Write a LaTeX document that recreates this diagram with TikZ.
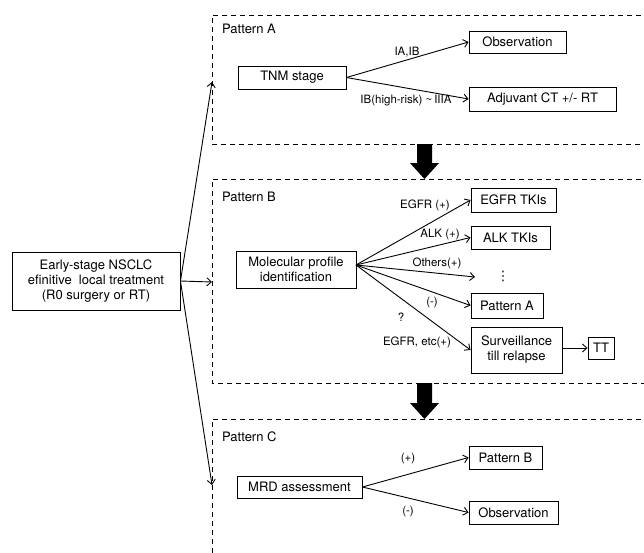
\documentclass[tikz,border=0pt]{standalone}
\usepackage{fontspec}
\setmainfont{TeX Gyre Heros}
\newfontfamily\dejavu{DejaVu Sans}
\usetikzlibrary{arrows.meta}
\begin{document}
\begin{tikzpicture}[x=1pt,y=-1pt,
  box/.style={draw,line width=0.9pt,inner sep=0pt,font=\fontsize{13}{15}\selectfont,align=center},
  lbl/.style={inner sep=0pt,font=\fontsize{11.5}{13}\selectfont},
  plabel/.style={inner sep=0pt,anchor=west,font=\fontsize{13}{15}\selectfont},
  arr/.style={line width=0.9pt,-{Straight Barb[length=4.5pt,width=8pt]}},
  dbox/.style={dashed,line width=0.9pt,dash pattern=on 5pt off 4pt},
  big/.style={fill=black,draw=none}]
\useasboundingbox (0,0) rectangle (644,552);
\begin{scope}
\clip (0,0) rectangle (644,552);
% dashed pattern boxes
\draw[dbox] (650,15) -- (212,15) -- (212,144) -- (650,144);
\draw[dbox] (650,179) -- (212,179) -- (212,383) -- (650,383);
\draw[dbox] (650,419) -- (212,419) -- (212,560);
\end{scope}
% big arrows
\fill[big] (417,144) -- (432,144) -- (432,163) -- (439,163) -- (424.5,179) -- (410,163) -- (417,163) -- cycle;
\fill[big] (417,383) -- (432,383) -- (432,403) -- (439,403) -- (424.5,419) -- (410,403) -- (417,403) -- cycle;

% left box
\node[box,minimum width=168pt,minimum height=58pt] (early) at (96,281) {Early-stage NSCLC\\efinitive\ \ local treatment\\(R0 surgery or RT)};
\coordinate (ta) at (212,82);
\coordinate (tb) at (212,282);
\coordinate (tc) at (212,485);
\draw[arr] (early.east) -- (ta);
\draw[arr] (early.east) -- (tb);
\draw[arr] (early.east) -- (tc);

% Pattern A
\node[plabel] (pa) at (222,29) {Pattern A};
\node[box,minimum width=108pt,minimum height=23pt] (tnm) at (292,77.5) {TNM stage};
\node[box,minimum width=97pt,minimum height=22pt] (obsA) at (517.5,42) {Observation};
\node[box,minimum width=147pt,minimum height=24pt] (adj) at (542.5,99) {Adjuvant CT +/- RT};
\draw[arr] (tnm.east) -- (obsA.west);
\draw[arr] (tnm.east) -- (adj.west);
\node[lbl] (l1) at (407,52) {IA,IB};
\node[lbl] (l2) at (406,100.5) {IB(high-risk) \textasciitilde\,IIIA};

% Pattern B
\node[plabel] (pb) at (222,197) {Pattern B};
\node[box,minimum width=120pt,minimum height=37pt] (mol) at (296,269.5) {Molecular profile\\identification};
\coordinate (mo) at (356,265);
\node[box,minimum width=85pt,minimum height=24pt] (egfr) at (513.5,200) {EGFR TKIs};
\node[box,minimum width=79pt,minimum height=23pt] (alk) at (510.5,237.5) {ALK TKIs};
\coordinate (oth) at (475,277);
\node[inner sep=0pt,font=\dejavu\fontsize{13}{15}\selectfont] (dots) at (503,276) {⋮};
\node[box,minimum width=72pt,minimum height=25pt] (patA) at (507,305.5) {Pattern A};
\node[box,minimum width=91pt,minimum height=46pt] (surv) at (516.5,350) {Surveillance\\till relapse};
\node[box,minimum width=26pt,minimum height=22pt] (tt) at (601,348) {TT};
\draw[arr] (mo) -- (egfr.west);
\draw[arr] (mo) -- (alk.west);
\draw[arr] (mo) -- (oth);
\draw[arr] (mo) -- (patA.west);
\draw[arr] (mo) -- (surv.west);
\draw[arr] (surv.east |- tt.west) -- (tt.west);
\node[lbl] (b1) at (425,205) {EGFR (+)};
\node[lbl] (b2) at (440,235) {ALK (+)};
\node[lbl] (b3) at (437,263) {Others(+)};
\node[lbl] (b4) at (432,303) {(-)};
\node[lbl] (b5) at (401,317) {?};
\node[lbl] (b6) at (417,342) {EGFR, etc(+)};

% Pattern C
\node[plabel] (pc) at (222,437) {Pattern C};
\node[box,minimum width=125pt,minimum height=22pt] (mrd) at (299.5,487) {MRD assessment};
\node[box,minimum width=73pt,minimum height=23pt] (patB) at (505.5,457.5) {Pattern B};
\node[box,minimum width=89pt,minimum height=23pt] (obsC) at (513.5,512.5) {Observation};
\draw[arr] (mrd.east) -- (patB.west);
\draw[arr] (mrd.east) -- (obsC.west);
\node[lbl] (c1) at (408,459) {(+)};
\node[lbl] (c2) at (408,512) {(-)};
\end{tikzpicture}
\end{document}
